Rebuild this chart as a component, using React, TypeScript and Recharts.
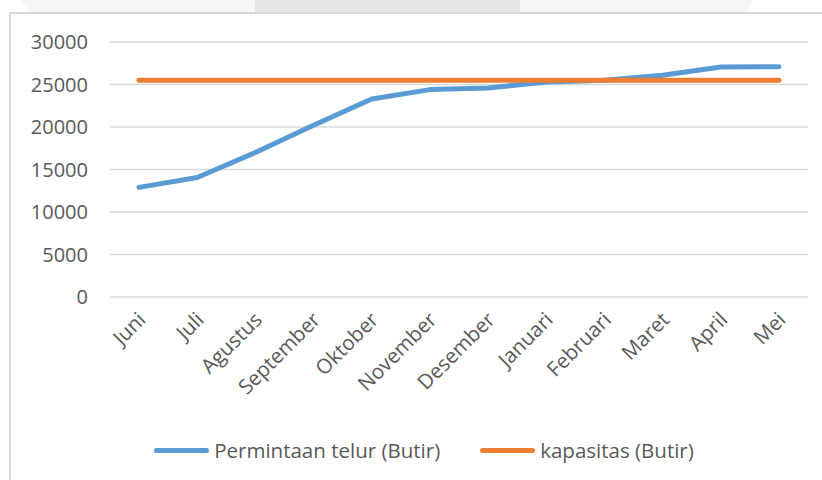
import { LineChart, Line, XAxis, YAxis, CartesianGrid, Legend } from "recharts";

const months = [
  "Juni",
  "Juli",
  "Agustus",
  "September",
  "Oktober",
  "November",
  "Desember",
  "Januari",
  "Februari",
  "Maret",
  "April",
  "Mei",
];
const permintaan = [12900, 14050, 17000, 20200, 23300, 24400, 24600, 25300, 25500, 26100, 27050, 27100];
const kapasitas = [25500, 25500, 25500, 25500, 25500, 25500, 25500, 25500, 25500, 25500, 25500, 25500];
const yTicks = [0, 5000, 10000, 15000, 20000, 25000, 30000];

const BLUE = "#5b9bd5";
const ORANGE = "#ed7d31";
const TEXT = "#595959";
const FONT = "'Open Sans', sans-serif";

const data = months.map((m, i) => ({
  name: m,
  permintaan: permintaan[i],
  kapasitas: kapasitas[i],
}));

const MonthTick = ({ x, y, payload }: any) => (
  <g transform={`translate(${x + 8},${y + 16})`}>
    <text
      textAnchor="end"
      transform="rotate(-45)"
      fill={TEXT}
      fontSize={20.5}
      fontFamily={FONT}
    >
      {payload.value}
    </text>
  </g>
);

const LegendBox = () => (
  <div
    style={{
      height: 50,
      display: "flex",
      alignItems: "center",
      justifyContent: "center",
      gap: 40,
      fontFamily: FONT,
      fontSize: 20.5,
      color: TEXT,
      paddingLeft: 30,
    }}
  >
    {[
      { label: "Permintaan telur (Butir)", color: BLUE },
      { label: "kapasitas (Butir)", color: ORANGE },
    ].map((it) => (
      <div key={it.label} style={{ display: "flex", alignItems: "center" }}>
        <span
          style={{
            display: "inline-block",
            width: 55,
            height: 5,
            borderRadius: 3,
            background: it.color,
            marginRight: 5,
          }}
        />
        <span>{it.label}</span>
      </div>
    ))}
  </div>
);

export default function App() {
  return (
    <div
      style={{
        position: "absolute",
        left: 0,
        top: 0,
        width: 822,
        height: 480,
        background: "#fff",
        overflow: "hidden",
      }}
    >
      {/* strip above the frame */}
      <div
        style={{
          position: "absolute",
          left: 20,
          top: 0,
          width: 734,
          height: 12,
          background: "#f6f6f6",
          clipPath: "polygon(0 0, 100% 0, 99% 100%, 1.4% 100%)",
        }}
      />
      <div
        style={{
          position: "absolute",
          left: 255,
          top: 0,
          width: 265,
          height: 12,
          background: "#e7e7e8",
        }}
      />
      {/* frame */}
      <div
        style={{
          position: "absolute",
          left: 9,
          top: 12,
          width: 830,
          height: 480,
          borderLeft: "2px solid #d9d9d9",
          borderTop: "2px solid #d9d9d9",
        }}
      />
      <div style={{ position: "absolute", left: 0, top: 0 }}>
        <LineChart
          width={822}
          height={480}
          data={data}
          margin={{ top: 42, right: 14, left: 10, bottom: 5 }}
        >
          <CartesianGrid vertical={false} stroke="#d9d9d9" strokeWidth={1.5} />
          <XAxis
            dataKey="name"
            axisLine={false}
            tickLine={false}
            interval={0}
            height={128}
            padding={{ left: 29, right: 29 }}
            tick={<MonthTick />}
          />
          <YAxis
            width={100}
            domain={[0, 30000]}
            ticks={yTicks}
            axisLine={false}
            tickLine={false}
            tickSize={0}
            tickMargin={22}
            tick={{ fill: TEXT, fontSize: 20, fontFamily: FONT }}
          />
          <Legend verticalAlign="bottom" height={50} content={<LegendBox />} />
          <Line
            dataKey="permintaan"
            name="Permintaan telur (Butir)"
            stroke={BLUE}
            strokeWidth={5}
            strokeLinecap="round"
            strokeLinejoin="round"
            dot={false}
            isAnimationActive={false}
          />
          <Line
            dataKey="kapasitas"
            name="kapasitas (Butir)"
            stroke={ORANGE}
            strokeWidth={5}
            strokeLinecap="round"
            dot={false}
            isAnimationActive={false}
          />
        </LineChart>
      </div>
    </div>
  );
}
